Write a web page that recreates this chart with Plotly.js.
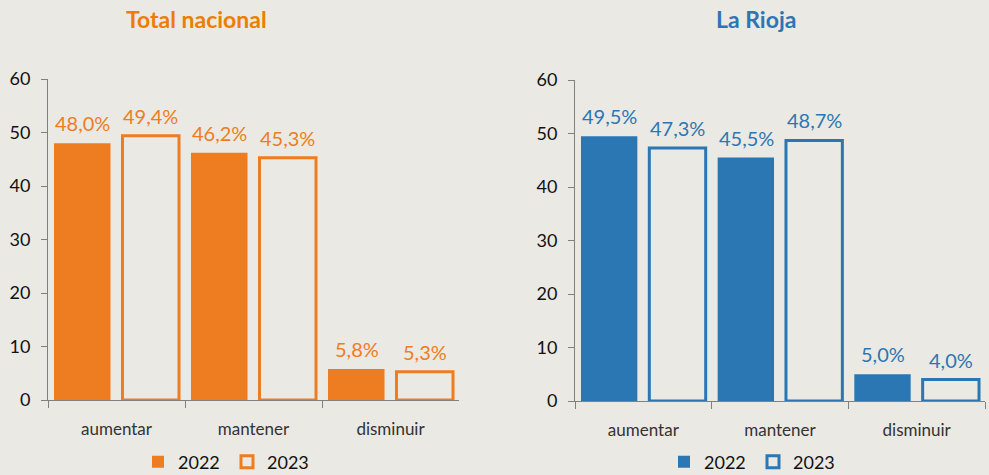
<!DOCTYPE html>
<html>
<head>
<meta charset="utf-8">
<script src="https://cdn.plot.ly/plotly-3.0.1.min.js"></script>
<style>html,body{margin:0;padding:0;background:#ebe9e4;}</style>
</head>
<body>
<div id="chart" style="width:989px;height:475px;"></div>
<script>
const categories = ["aumentar", "mantener", "disminuir"];
const years = ["2022", "2023"];
const nacional2022 = [48.0, 46.2, 5.8];
const nacional2023 = [49.4, 45.3, 5.3];
const rioja2022 = [49.5, 45.5, 5.0];
const rioja2023 = [47.3, 48.7, 4.0];
const panelTitles = ["Total nacional", "La Rioja"];
const yTicks = [0, 10, 20, 30, 40, 50, 60];

const BG = "#ebe9e4";
const ORANGE = "#ee7d22";
const BLUE = "#2b77b4";
const FONT = "Lato, 'Noto Sans', sans-serif";

function barTrace(y, name, color, filled, xa, ya, legend) {
  return {
    type: "bar",
    x: categories,
    y: y,
    name: name,
    xaxis: xa,
    yaxis: ya,
    legend: legend,
    marker: {
      color: filled ? color : BG,
      line: {color: color, width: filled ? 0 : 3}
    },
    hoverinfo: "skip"
  };
}

const data = [
  barTrace(nacional2022, years[0], ORANGE, true, "x", "y", "legend"),
  barTrace(nacional2023, years[1], ORANGE, false, "x", "y", "legend"),
  barTrace(rioja2022, years[0], BLUE, true, "x2", "y2", "legend2"),
  barTrace(rioja2023, years[1], BLUE, false, "x2", "y2", "legend2")
];

// value labels placed through the axes (category + value), shifted to each bar of the group
function valueLabels(vals, color, xa, ya, shift) {
  return vals.map((v, i) => ({
    x: categories[i], y: v, xref: xa, yref: ya,
    text: v.toFixed(1).replace(".", ",") + "%",
    showarrow: false, xanchor: "center", yanchor: "bottom",
    xshift: shift, yshift: 6,
    font: {size: 20, color: color, family: FONT}
  }));
}

const xAxisBase = {
  type: "category",
  showline: true, linecolor: "#808080", linewidth: 1,
  ticks: "outside", tickson: "boundaries", ticklen: 7, tickcolor: "#808080",
  tickfont: {size: 17, color: "#333", family: FONT},
  ticklabelstandoff: 14,
  showgrid: false, zeroline: false, fixedrange: true
};
const yAxisBase = {
  range: [0, 60], tickvals: yTicks,
  showline: true, linecolor: "#808080", linewidth: 1,
  ticks: "outside", ticklen: 6, tickcolor: "#808080",
  tickfont: {size: 18, color: "#111", family: FONT},
  ticklabelstandoff: 7,
  showgrid: false, zeroline: false, fixedrange: true
};

const legendBase = {
  orientation: "h", xanchor: "center", y: 1 - 462/475, yanchor: "middle",
  bgcolor: "rgba(0,0,0,0)", font: {size: 18, color: "#111", family: FONT},
  itemwidth: 30, entrywidth: 44, traceorder: "normal"
};

const layout = {
  width: 989, height: 475,
  paper_bgcolor: BG, plot_bgcolor: BG,
  margin: {l: 0, r: 0, t: 0, b: 0, autoexpand: false},
  barmode: "group",
  bargap: 0,
  bargroupgap: 0.175,
  separators: ",.",
  font: {family: FONT},
  showlegend: true,
  xaxis: Object.assign({}, xAxisBase, {domain: [48/989, 459/989], anchor: "y"}),
  yaxis: Object.assign({}, yAxisBase, {domain: [1 - 400/475, 1 - 79/475], anchor: "x"}),
  xaxis2: Object.assign({}, xAxisBase, {domain: [575/989, 985/989], anchor: "y2"}),
  yaxis2: Object.assign({}, yAxisBase, {domain: [1 - 401/475, 1 - 80/475], anchor: "x2"}),
  legend: Object.assign({}, legendBase, {x: 227/989}),
  legend2: Object.assign({}, legendBase, {x: 753/989}),
  annotations: [
    {text: "<b>" + panelTitles[0] + "</b>", x: 196/989, y: 1 - 19/475, xref: "paper", yref: "paper",
     xanchor: "center", yanchor: "middle", showarrow: false,
     font: {size: 23, color: "#ef7d00", family: FONT}},
    {text: "<b>" + panelTitles[1] + "</b>", x: 756/989, y: 1 - 19/475, xref: "paper", yref: "paper",
     xanchor: "center", yanchor: "middle", showarrow: false,
     font: {size: 23, color: "#2e75b5", family: FONT}}
  ].concat(
    valueLabels(nacional2022, ORANGE, "x", "y", -34),
    valueLabels(nacional2023, ORANGE, "x", "y", 34),
    valueLabels(rioja2022, BLUE, "x2", "y2", -34),
    valueLabels(rioja2023, BLUE, "x2", "y2", 34)
  )
};

Plotly.newPlot("chart", data, layout, {displayModeBar: false, staticPlot: true});
</script>
</body>
</html>
